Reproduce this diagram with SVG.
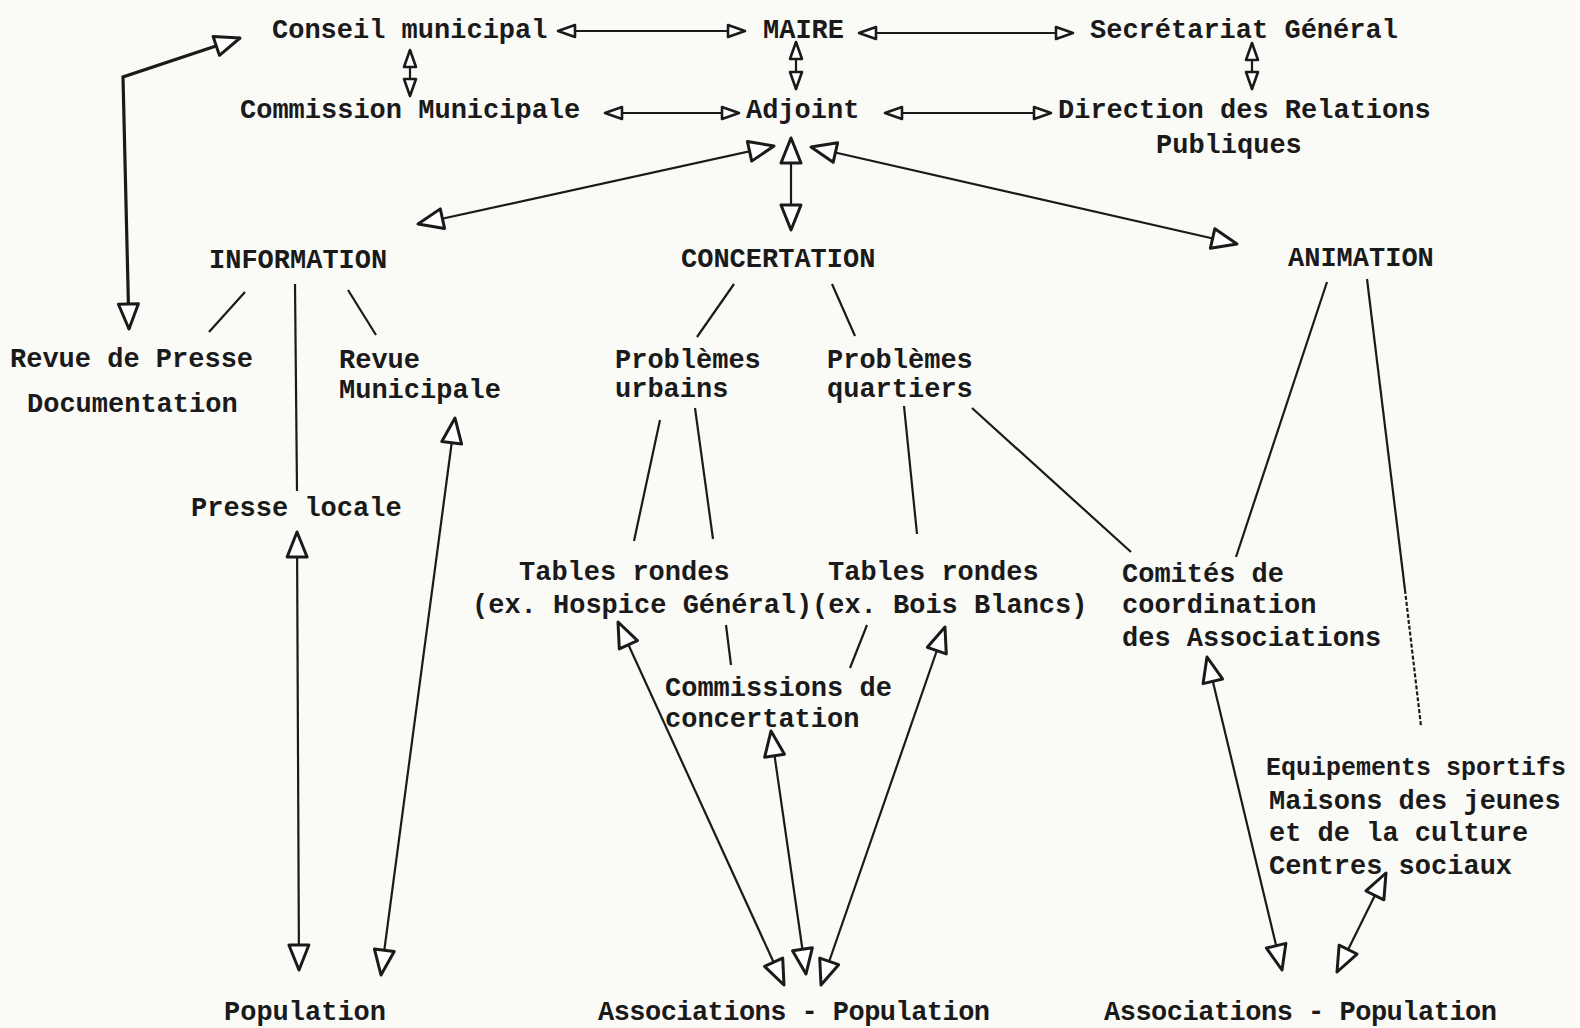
<svg xmlns="http://www.w3.org/2000/svg" width="1580" height="1028" viewBox="0 0 1580 1028">
<style>
text{font-family:"Liberation Mono","DejaVu Sans Mono",monospace;font-size:27px;fill:#1a1a1a;font-weight:bold}
.c line,.c path{stroke:#1a1a1a;stroke-width:2.2;fill:none}
.thick{stroke-width:3.2 !important}
.a{marker-start:url(#ah);marker-end:url(#ah)}
.e{marker-end:url(#ah)}
.s{marker-start:url(#as);marker-end:url(#as)}
</style>
<defs>
<marker id="ah" viewBox="0 0 30 26" refX="28" refY="13" markerWidth="30" markerHeight="26" markerUnits="userSpaceOnUse" orient="auto-start-reverse">
<path d="M3,3 L28,13 L3,23 Z" fill="#fff" stroke="#1a1a1a" stroke-width="3" stroke-linejoin="round"/>
</marker>
<marker id="as" viewBox="0 0 22 18" refX="20" refY="9" markerWidth="22" markerHeight="18" markerUnits="userSpaceOnUse" orient="auto-start-reverse">
<path d="M3,3 L20,9 L3,15 Z" fill="#fff" stroke="#1a1a1a" stroke-width="2.6" stroke-linejoin="round"/>
</marker>
</defs>
<rect width="1580" height="1028" fill="#fafaf7"/>
<g id="connectors" class="c">
<line class="s" x1="558" y1="31" x2="745" y2="31"/>
<line class="s" x1="859" y1="33" x2="1073" y2="33"/>
<line class="s" x1="410" y1="50" x2="410" y2="96"/>
<line class="s" x1="796" y1="42" x2="796" y2="89"/>
<line class="s" x1="1252" y1="43" x2="1252" y2="89"/>
<line class="s" x1="605" y1="113" x2="739" y2="113"/>
<line class="s" x1="885" y1="113" x2="1051" y2="113"/>
<path class="a thick" d="M240,38 L123,77 L129,329"/>
<line class="a" x1="774" y1="146" x2="418" y2="224"/>
<line class="a" x1="791" y1="138" x2="791" y2="230"/>
<line class="a" x1="811" y1="147" x2="1237" y2="244"/>
<line x1="245" y1="292" x2="209" y2="332"/>
<line x1="295" y1="284" x2="297" y2="491"/>
<line x1="348" y1="290" x2="376" y2="335"/>
<line x1="734" y1="284" x2="697" y2="337"/>
<line x1="832" y1="284" x2="855" y2="336"/>
<line x1="660" y1="420" x2="634" y2="541"/>
<line x1="695" y1="408" x2="713" y2="539"/>
<line x1="904" y1="406" x2="917" y2="534"/>
<line x1="972" y1="408" x2="1131" y2="552"/>
<line x1="1327" y1="282" x2="1236" y2="557"/>
<line x1="1367" y1="279" x2="1405" y2="590"/>
<line x1="1405" y1="590" x2="1421" y2="726" stroke-dasharray="4,2"/>
<line x1="726" y1="625" x2="731" y2="665"/>
<line x1="867" y1="625" x2="850" y2="668"/>
<line class="a" x1="618" y1="622" x2="784" y2="985"/>
<line class="a" x1="771" y1="731" x2="806" y2="974"/>
<line class="a" x1="945" y1="627" x2="821" y2="985"/>
<line class="a" x1="297" y1="532" x2="299" y2="970"/>
<line class="a" x1="455" y1="418" x2="381" y2="975"/>
<line class="a" x1="1207" y1="657" x2="1282" y2="970"/>
<line class="a" x1="1386" y1="873" x2="1337" y2="972"/>
</g>
<g id="conseil"><text x="272" y="38">Conseil municipal</text></g>
<g id="maire"><text x="763" y="38">MAIRE</text></g>
<g id="secretariat"><text x="1090" y="38">Secrétariat Général</text></g>
<g id="commission"><text x="240" y="118">Commission Municipale</text></g>
<g id="adjoint"><text x="746" y="118">Adjoint</text></g>
<g id="direction"><text x="1058" y="118">Direction des Relations</text><text x="1156" y="153">Publiques</text></g>
<g id="information"><text x="209" y="268">INFORMATION</text></g>
<g id="concertation"><text x="681" y="267">CONCERTATION</text></g>
<g id="animation"><text x="1288" y="266">ANIMATION</text></g>
<g id="revue-presse"><text x="10" y="367">Revue de Presse</text><text x="27" y="412">Documentation</text></g>
<g id="revue-municipale"><text x="339" y="368">Revue</text><text x="339" y="398">Municipale</text></g>
<g id="prob-urbains"><text x="615" y="368">Problèmes</text><text x="615" y="397">urbains</text></g>
<g id="prob-quartiers"><text x="827" y="368">Problèmes</text><text x="827" y="397">quartiers</text></g>
<g id="presse-locale"><text x="191" y="516">Presse locale</text></g>
<g id="tables-hospice"><text x="519" y="580">Tables rondes</text><text x="472" y="613">(ex. Hospice Général)</text></g>
<g id="tables-bois"><text x="828" y="580">Tables rondes</text><text x="812" y="613">(ex. Bois Blancs)</text></g>
<g id="comites"><text x="1122" y="582">Comités de</text><text x="1122" y="613">coordination</text><text x="1122" y="646">des Associations</text></g>
<g id="commissions"><text x="665" y="696">Commissions de</text><text x="665" y="727">concertation</text></g>
<g id="equipements"><text x="1266" y="775" style="font-size:25px">Equipements sportifs</text><text x="1269" y="809">Maisons des jeunes</text><text x="1269" y="841">et de la culture</text><text x="1269" y="874">Centres sociaux</text></g>
<g id="population"><text x="224" y="1020">Population</text></g>
<g id="assoc-pop-1"><text x="598" y="1020" textLength="392" lengthAdjust="spacing">Associations - Population</text></g>
<g id="assoc-pop-2"><text x="1104" y="1020" textLength="393" lengthAdjust="spacing">Associations - Population</text></g>
</svg>
